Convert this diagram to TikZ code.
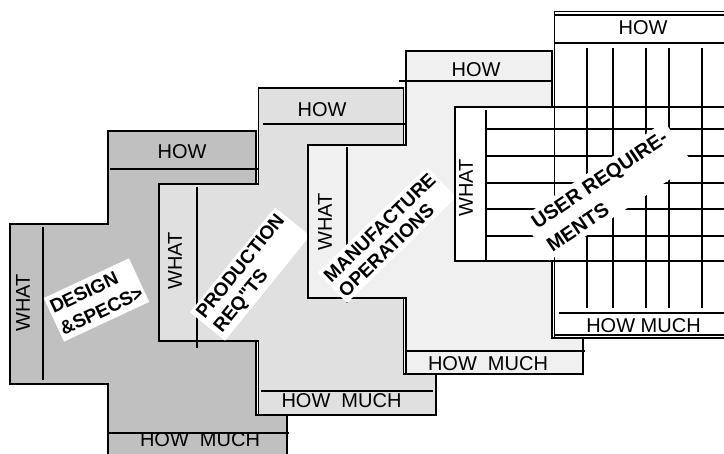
\documentclass[tikz,border=0pt]{standalone}
\usepackage{fontspec}
\setmainfont{Liberation Sans}
\usetikzlibrary{positioning}
\definecolor{shadeA}{HTML}{C0C0C0}
\definecolor{shadeB}{HTML}{E0E0E0}
\definecolor{shadeC}{HTML}{F0F0F0}

\begin{document}
\begin{tikzpicture}[x=1pt,y=-1pt,line width=1.5pt,
	rulenode/.style={inner sep=0pt,font=\fontsize{20}{24}\selectfont},
	tagnode/.style={fill=white,inner sep=0pt,align=left}]
	
	\useasboundingbox (0,0) rectangle (724,454);
	\clip (0,0) rectangle (724,454);
	
	% design & specs
	\draw[fill=shadeA] (108,131) -- (256,131) -- (256,415) -- (287,415) -- (287,470) -- (108,470) -- (108,384) -- (10,384) -- (10,224) -- (108,224) -- cycle;
	\draw (110,169) -- (259,169);
	\draw (43,227) -- (43,380);
	\draw (107,433) -- (289,433);
	\node [rulenode, anchor=base] (how1) at (182,159) {HOW};
	\node [rulenode, rotate=90] (what1) at (23,303) {WHAT};
	\node [rulenode, anchor=base] (much1) at (200,447) {HOW\ \ MUCH};
	\node [tagnode, rotate=25, minimum width=94pt, minimum height=48pt, font=\bfseries\fontsize{19}{24}\selectfont] (tag1) at (96.5,300) {DESIGN\\\&SPECS>};
	
	% production
	\draw[fill=shadeB] (258.5,88) -- (403.5,88) -- (403.5,374) -- (436,374) -- (436,415) -- (258.5,415) -- (258.5,341) -- (159,341) -- (159,184) -- (258.5,184) -- cycle;
	\draw (263,124) -- (405,124);
	\draw (197,187) -- (197,348);
	\draw (261,391) -- (433,391);
	\node [rulenode, anchor=base] (how2) at (322,117) {HOW};
	\node [rulenode, rotate=90] (what2) at (175,261) {WHAT};
	\node [rulenode, anchor=base] (much2) at (341.5,408) {HOW\ \ MUCH};
	\node [tagnode, rotate=51, minimum width=135pt, minimum height=45pt, font=\bfseries\fontsize{19}{22}\selectfont] (tag2) at (250,274) {PRODUCTION\\REQ\textquotedbl TS};
	
	% manufacture
	\draw[fill=shadeC] (406,51) -- (552,51) -- (552,338) -- (583,338) -- (583,374) -- (406,374) -- (406,298) -- (308,298) -- (308,145) -- (406,145) -- cycle;
	\draw (399,81) -- (552,81);
	\draw (347,147) -- (347,303);
	\draw (407,351) -- (585,351);
	\node [rulenode, anchor=base] (how3) at (476,77) {HOW};
	\node [rulenode, rotate=90] (what3) at (325,222) {WHAT};
	\node [rulenode, anchor=base] (much3) at (488,371) {HOW\ \ MUCH};
	\node [tagnode, rotate=44, minimum width=152pt, minimum height=42pt, font=\bfseries\fontsize{19}{21}\selectfont] (tag3) at (387,235) {MANUFACTURE\\OPERATIONS};
	
	% user
	\draw[fill=white] (554.5,11.5) -- (730,11.5) -- (730,338) -- (554.5,338) -- (554.5,261) -- (455,261) -- (455,107) -- (554.5,107) -- cycle;
	\draw (554.5,15) -- (730,15);
	\draw (554.5,335) -- (730,335);
	\draw (554.5,43) -- (730,43);
	\draw (559,313) -- (730,313);
	\draw (486,110) -- (486,261);
	\draw (554.5,107) -- (554.5,261);
	\draw (554.5,107) -- (730,107);
	\draw (554.5,261) -- (730,261);
	\foreach \gy in {129,156,183,209,236}
		\draw (486,\gy) -- (730,\gy);
	\foreach \gx in {587,613,646,669,702}
		\draw (\gx,48) -- (\gx,308);
	\node [rulenode, anchor=base] (how4) at (643,35) {HOW};
	\node [rulenode, rotate=90] (what4) at (466,188) {WHAT};
	\node [rulenode, anchor=base] (much4) at (643.5,333) {HOW MUCH};
	\node [tagnode, rotate=34, minimum width=173pt, minimum height=51pt, font=\bfseries\fontsize{20}{27}\selectfont] (tag4) at (607,191) {USER REQUIRE-\\MENTS};
\end{tikzpicture}
\end{document}
